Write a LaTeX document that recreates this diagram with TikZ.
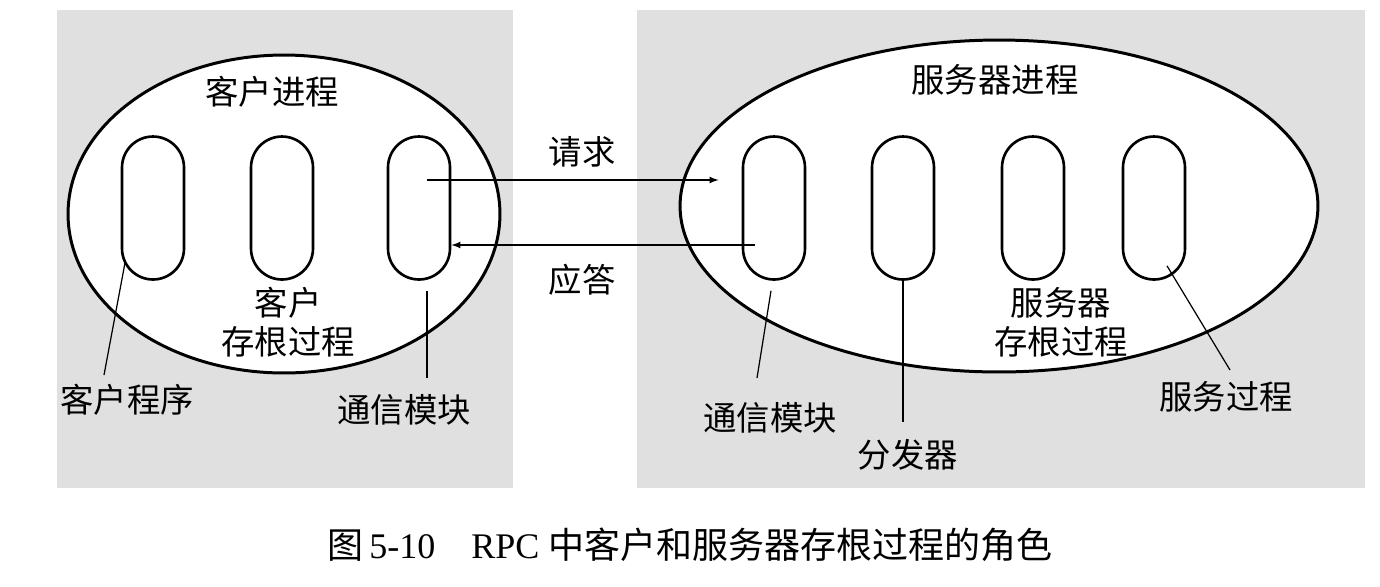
\documentclass[tikz,border=0pt]{standalone}
\usepackage{fontspec}
\setmainfont{Liberation Serif}
\newfontfamily\cjk{Noto Sans CJK SC}
\usetikzlibrary{shapes.geometric,positioning,calc}

\begin{document}
\begin{tikzpicture}[x=0.02cm, y=-0.02cm, >=latex,
  every node/.append style={font=\cjk\fontsize{19}{22}\selectfont},
  proc/.style={draw, ellipse, line width=1.7pt, fill=white, inner sep=0pt},
  stub/.style={draw, rectangle, rounded corners=0.62cm, line width=1.5pt,
    minimum width=1.24cm, minimum height=2.86cm, inner sep=0pt},
  lead/.style={line width=0.7pt},
  msg/.style={->, line width=0.8pt}]
  \useasboundingbox (0,0) rectangle (1380,586);
  \fill[black!12] (57,10) rectangle (513,488);
  \fill[black!12] (637,10) rectangle (1365,488);

  % client side
  \node[proc, minimum width=8.64cm, minimum height=6.36cm] (client) at (284,214) {};
  \node (clabel) at (272,92) {客户进程};
  \node[stub] (cp) at (153,208) {};
  \node[stub] (cs) at (282,208) {};
  \node[stub] (cm) at (419,208) {};
  \node[align=center] (cstub) at (288,322) {客户\\存根过程};
  \node (cptext) at (127,400) {客户程序};
  \node (cmtext) at (404,410) {通信模块};
  \coordinate (cpend) at (104,375);
  \coordinate (cmend) at (427,378);
  \draw[lead] ($(cp.south)+(-28,-18)$) -- (cpend);
  \draw[lead] ($(cm.south)+(8,10)$) -- (cmend);

  % server side
  \node[proc, minimum width=12.76cm, minimum height=6.64cm] (server) at (999,206) {};
  \node (slabel) at (995,80) {服务器进程};
  \node[stub] (sm) at (774,208) {};
  \node[stub] (sd) at (903,208) {};
  \node[stub] (ss) at (1033,208) {};
  \node[stub] (sp) at (1154,208) {};
  \node[align=center] (sstub) at (1061,322) {服务器\\存根过程};
  \node (smtext) at (770,418) {通信模块};
  \node (sdtext) at (908,455) {分发器};
  \node (sptext) at (1226,397) {服务过程};
  \coordinate (smend) at (757,378);
  \coordinate (sdend) at (903,422);
  \coordinate (spend) at (1230,370);
  \draw[lead] ($(sm.south)+(-3,10)$) -- (smend);
  \draw[lead] (sd.south) -- (sdend);
  \draw[lead] ($(sp.south)+(13,-15)$) -- (spend);

  % messages
  \coordinate (reqa) at ($(cm.center)+(8,-28)$);
  \coordinate (reqb) at ($(sm.west |- reqa)+(-23,0)$);
  \coordinate (repa) at ($(sm.center)+(-19,37)$);
  \draw[msg] (reqa) -- (reqb);
  \draw[msg] (repa) -- (cm.east |- repa);
  \node (req) at (582,152) {请求};
  \node (rep) at (582,280) {应答};

  \node[font=\fontsize{20.5}{24}\selectfont] (caption) at (690,545)
    {{\cjk 图}\,5-10\quad RPC {\cjk 中客户和服务器存根过程的角色}};
\end{tikzpicture}
\end{document}
